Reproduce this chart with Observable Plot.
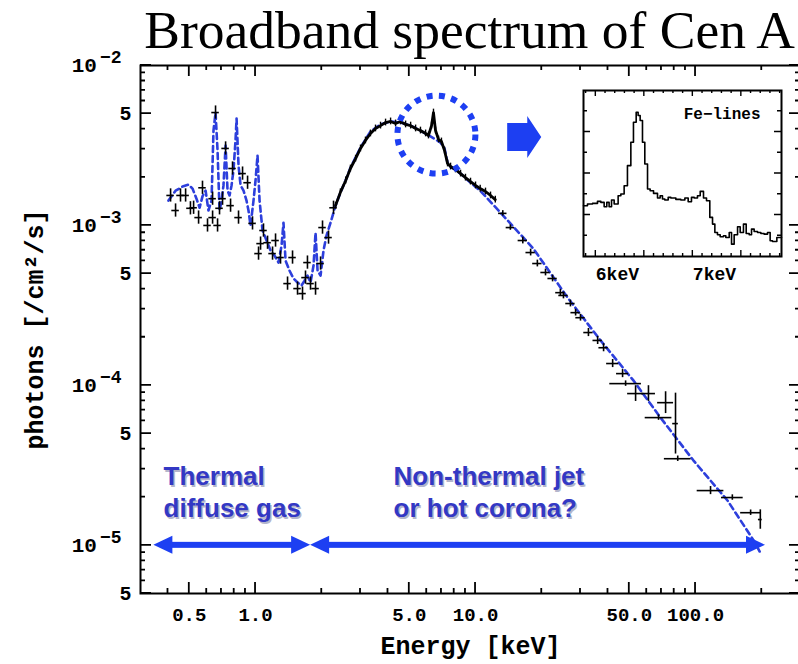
<!DOCTYPE html>
<html>
<head>
<meta charset="utf-8">
<script src="https://cdn.jsdelivr.net/npm/d3@7"></script>
<script src="https://cdn.jsdelivr.net/npm/@observablehq/plot@0.6"></script>
<style>
  html, body { margin: 0; padding: 0; background: #fff; overflow: hidden; }
  #wrap { position: relative; width: 800px; height: 664px; }
  #title {
    box-sizing: border-box; width: 798px; height: 58px; line-height: 60px;
    padding-right: 3px; text-align: right; white-space: nowrap; overflow: visible;
    font-family: "Liberation Serif", serif; font-size: 53.5px; color: #000;
  }
  #inset { position: absolute; left: 581px; top: 88px; }
</style>
</head>
<body>
<div id="wrap">
  <div id="title">Broadband spectrum of Cen A</div>
</div>
<script>
// ---------- spectrum data (energy in keV, flux in 10^-3 photons/cm^2/s) ----------
// soft band bins (thermal emission)
const softE = [0.411,0.433,0.456,0.481,0.506,0.523,0.551,0.574,0.605,0.638,0.638,0.658,0.672,0.686,0.708,0.731,0.770,0.786,0.837,0.873,0.920,0.969,1.032,1.054,1.087,1.134,1.195,1.233,1.299,1.398,1.473,1.552,1.635,1.687,1.722,1.778,1.874,1.975,2.016,2.147,2.262];
const softF = [1.54,1.24,1.54,1.54,1.28,1.29,1.12,1.72,1.00,1.47,1.12,5.08,1.00,1.28,1.47,3.03,1.33,2.27,1.12,2.11,1.85,1.03,0.667,0.77,0.93,0.78,0.667,0.805,0.63,0.433,0.63,0.403,0.375,0.472,0.586,0.433,0.403,0.578,0.97,0.84,1.29];
const softXf = 1.04, softYf = 1.1;   // multiplicative error half-widths

// dense continuum 2.3–12 keV, with the Fe K line
const contE = [2.31,2.43,2.57,2.70,2.85,3.00,3.16,3.33,3.51,3.70,3.90,4.11,4.33,4.56,4.81,5.07,5.34,5.62,5.93,6.11,6.31,6.44,6.58,6.79,7.00,7.23,7.46,7.70,8.11,8.55,9.00,9.49,10.0,10.5,11.1,11.7,12.3];
const contF = [1.33,1.61,1.91,2.27,2.62,3.03,3.40,3.76,4.04,4.21,4.40,4.47,4.34,4.47,4.28,4.21,4.04,3.92,3.76,3.65,4.21,5.08,3.92,3.445,3.35,2.94,2.44,2.335,2.24,2.11,1.99,1.88,1.78,1.70,1.63,1.54,1.45];

// hard band bins
const hardE  = [13.3,14.4,16.4,17.8,19.1,20.8,22.4,24.3,25.1,27.0,28.5,30.0,32.6,35.9,38.2,42.0,46.6,48.1,53.4,61.1,73.1,67.9,81.1,83.0,117,147,178,197];
const hardF  = [1.19,0.97,0.805,0.677,0.578,0.508,0.466,0.38,0.365,0.325,0.285,0.265,0.214,0.191,0.172,0.137,0.1185,0.1026,0.0889,0.0889,0.078,0.0629,0.0577,0.0348,0.022,0.0199,0.016,0.0145];
const hardXf = [1.045,1.045,1.05,1.05,1.05,1.05,1.05,1.05,1.05,1.05,1.05,1.05,1.05,1.05,1.05,1.065,1.065,1.18,1.087,1.076,1.087,1.15,1.03,1.15,1.15,1.12,1.11,1.02];
const hardYf = [1.04,1.04,1.05,1.05,1.05,1.05,1.05,1.05,1.05,1.05,1.05,1.05,1.06,1.06,1.06,1.06,1.06,1.04,1.12,1.12,1.17,1.04,1.55,1.04,1.06,1.04,1.04,1.15];

// best-fit model curve
const modelE = [0.402,0.433,0.466,0.496,0.517,0.539,0.557,0.574,0.593,0.611,0.631,0.644,0.658,0.672,0.686,0.701,0.715,0.731,0.746,0.762,0.778,0.794,0.811,0.820,0.837,0.855,0.882,0.910,0.929,0.949,0.979,1.0,1.021,1.043,1.076,1.122,1.170,1.220,1.272,1.313,1.340,1.369,1.427,1.488,1.552,1.618,1.670,1.722,1.778,1.835,1.874,1.914,1.975,2.037,2.102,2.193,2.310,2.433,2.565,2.703,3.0,3.332,3.70,4.11,4.56,5.07,5.62,6.24,6.93,7.23,7.46,7.70,8.55,9.49,10.5,13.0,18.3,26.2,37.0,52.3,69.3,97.9,140,184,197];
const modelF = [1.43,1.65,1.75,1.80,1.70,1.47,1.29,1.52,1.65,1.24,1.43,3.92,5.08,2.94,1.24,1.43,1.78,3.16,1.65,1.54,1.78,2.21,3.40,4.66,2.37,1.78,1.65,1.43,1.24,1.00,1.43,1.91,2.74,1.43,0.93,0.805,0.697,0.648,0.586,0.748,1.04,0.603,0.522,0.466,0.44,0.421,0.452,0.486,0.44,0.561,0.90,0.522,0.486,0.697,0.865,1.04,1.33,1.61,1.91,2.30,3.07,3.87,4.28,4.47,4.40,4.21,3.92,3.60,3.30,3.03,2.47,2.33,2.11,1.85,1.65,1.20,0.718,0.354,0.191,0.107,0.0629,0.0339,0.0190,0.0107,0.0090];

// Fe-line zoom: bin left edges (keV) and counts (arbitrary units)
const feE = [5.873,5.914,5.966,6.017,6.052,6.086,6.113,6.137,6.162,6.189,6.230,6.258,6.292,6.326,6.361,6.388,6.416,6.436,6.457,6.481,6.505,6.533,6.560,6.595,6.636,6.663,6.687,6.711,6.746,6.773,6.825,6.876,6.918,6.952,6.986,7.014,7.048,7.076,7.110,7.141,7.175,7.203,7.227,7.254,7.282,7.316,7.340,7.375,7.399,7.426,7.461,7.488,7.522,7.550,7.581,7.605,7.632,7.667,7.701,7.735,7.770,7.797,7.821,7.866,7.914];
const feC = [1.223,1.264,1.280,1.328,1.304,1.199,1.304,1.199,1.360,1.264,1.465,1.505,1.706,2.189,2.753,3.235,3.477,3.396,3.276,2.753,2.229,1.626,1.586,1.521,1.408,1.465,1.384,1.360,1.425,1.408,1.376,1.360,1.408,1.320,1.425,1.408,1.465,1.569,1.408,1.344,0.942,0.781,0.579,0.523,0.475,0.499,0.459,0.579,0.298,0.523,0.716,0.579,0.781,0.555,0.523,0.660,0.604,0.579,0.555,0.539,0.579,0.378,0.362,0.459,0.459];

// annotations
const feRing = {E: 6.64, F: 3.70e-3};                 // circled Fe feature
const pointer = {from: 14.0, to: 20.0, F: 3.55e-3};     // arrow toward the zoom panel
const bandLevel = 1e-5;
const bands = [[0.345, 1.78], [1.78, 208]];            // thermal / non-thermal ranges
const bandLabels = [
  {E: 0.382, F: 3.29e-5, text: "Thermal\ndiffuse gas"},
  {E: 4.24,  F: 3.29e-5, text: "Non-thermal jet\nor hot corona?"}
];

// axis extents and ticks
const xDomain = [0.3, 300];
const yDomain = [5e-6, 1e-2];
const xMajor = [0.5, 1, 5, 10, 50, 100];
const xMinor = [0.4, 0.6, 0.7, 0.8, 0.9, 2, 3, 4, 6, 7, 8, 9, 20, 30, 40, 60, 70, 80, 90, 200];
const yDecades = [1e-2, 1e-3, 1e-4, 1e-5];
const yFives = [5e-3, 5e-4, 5e-5, 5e-6];
const yMinor = [9e-3,8e-3,7e-3,6e-3,4e-3,3e-3,2e-3, 9e-4,8e-4,7e-4,6e-4,4e-4,3e-4,2e-4, 9e-5,8e-5,7e-5,6e-5,4e-5,3e-5,2e-5, 9e-6,8e-6,7e-6,6e-6];
const feXDomain = [5.873, 7.914];
const feYDomain = [0, 4];
const feMajorX = [6, 6.5, 7, 7.5];
const feMinorX = [5.9,6.1,6.2,6.3,6.4,6.6,6.7,6.8,6.9,7.1,7.2,7.3,7.4,7.6,7.7,7.8,7.9];
const feMajorY = [1, 2, 3];
const feMinorY = [0.5, 1.5, 2.5, 3.5];
const feLabels = [6, 7];

// ---------- tables ----------
const soft = softE.map((E, i) => ({E, F: softF[i] * 1e-3, xf: softXf, yf: softYf}));
const hard = hardE.map((E, i) => ({E, F: hardF[i] * 1e-3, xf: hardXf[i], yf: hardYf[i]}));
const points = soft.concat(hard);
const cont = contE.map((E, i) => ({E, F: contF[i] * 1e-3}));
const model = modelE.map((E, i) => ({E, F: modelF[i] * 1e-3}));
const fe = feE.map((E, i) => ({E, C: feC[i]}));

const MODEL_BLUE = "#2d3fdc";
const ARROW_BLUE = "#1d3ff2";
const TEXT_BLUE = "#3338c4";
const MONO = "Liberation Mono, DejaVu Sans Mono, monospace";
const SANS = "Liberation Sans, Arial, sans-serif";

// inward ticks on all four frame edges, positioned with the plot's own scales
// and appended on top of the finished chart
function addFrameTicks(svg, xSets, ySets, strokeWidth) {
  const sx = svg.scale("x"), sy = svg.scale("y");
  const x0 = Math.min(...sx.range), x1 = Math.max(...sx.range);
  const y0 = Math.min(...sy.range), y1 = Math.max(...sy.range);
  let d = "";
  for (const [values, len] of xSets) for (const v of values) {
    const x = sx.apply(v);
    d += `M${x},${y1}V${y1 - len}M${x},${y0}V${y0 + len}`;
  }
  for (const [values, len] of ySets) for (const v of values) {
    const y = sy.apply(v);
    d += `M${x0},${y}H${x0 + len}M${x1},${y}H${x1 - len}`;
  }
  d3.select(svg).append("path").attr("d", d).attr("fill", "none")
    .attr("stroke", "black").attr("stroke-width", strokeWidth);
}

// filled block arrow drawn from scale positions
function blockArrow(spec) {
  return (index, {x, y}) => {
    const x1 = x(spec.from), x2 = x(spec.to), yc = y(spec.F);
    const bh = 14, hh = 21, hl = 14;
    const pts = [[x1, yc - bh], [x2 - hl, yc - bh], [x2 - hl, yc - hh], [x2, yc],
                 [x2 - hl, yc + hh], [x2 - hl, yc + bh], [x1, yc + bh]];
    return d3.create("svg:polygon").attr("points", pts.join(" ")).attr("fill", ARROW_BLUE).node();
  };
}

// double-headed range arrows along a flux level
function rangeArrows(spans, level) {
  return (index, {x, y}) => {
    const g = d3.create("svg:g").attr("fill", ARROW_BLUE);
    const yc = y(level), hl = 19, hh = 9;
    for (const [a, b] of spans) {
      const xa = x(a), xb = x(b);
      g.append("rect").attr("x", xa + 8).attr("y", yc - 3).attr("width", xb - xa - 16).attr("height", 6);
      g.append("polygon").attr("points", [[xa, yc], [xa + hl, yc - hh], [xa + hl, yc + hh]].join(" "));
      g.append("polygon").attr("points", [[xb, yc], [xb - hl, yc - hh], [xb - hl, yc + hh]].join(" "));
    }
    return g.node();
  };
}

const labelFont = {fontWeight: "bold", fontFamily: MONO, fill: "black"};

const chart = Plot.plot({
  width: 800, height: 606,
  marginLeft: 140, marginRight: 0, marginTop: 7, marginBottom: 71,
  style: {background: "transparent", overflow: "visible", maxWidth: "none", fontFamily: MONO},
  x: {type: "log", domain: xDomain, axis: null},
  y: {type: "log", domain: yDomain, axis: null},
  marks: [
    // tick labels
    Plot.text(xMajor, {x: d => d, frameAnchor: "bottom", dy: 14, lineAnchor: "top",
      text: d3.format(".1f"), fontSize: 19, ...labelFont}),
    Plot.text(yDecades, {y: d => d, frameAnchor: "left", dx: -19, textAnchor: "end", lineAnchor: "middle",
      text: d => `10^${Math.round(Math.log10(d))}`, fontSize: 21, ...labelFont}),
    Plot.text(yFives, {y: d => d, frameAnchor: "left", dx: -9, textAnchor: "end", lineAnchor: "middle",
      text: () => "5", fontSize: 20, ...labelFont}),
    Plot.frame({stroke: "black", strokeWidth: 2}),

    // model
    Plot.line(model, {x: "E", y: "F", stroke: MODEL_BLUE, strokeWidth: 2.6, strokeDasharray: "6,4"}),

    // data with error bars
    Plot.line(cont, {x: "E", y: "F", stroke: "black", strokeWidth: 2.8}),
    Plot.ruleX(cont, {x: "E", y1: d => d.F / 1.05, y2: d => d.F * 1.05, stroke: "black", strokeWidth: 1.4}),
    Plot.ruleX(points, {x: "E", y1: d => d.F / d.yf, y2: d => d.F * d.yf, stroke: "black", strokeWidth: 1.6}),
    Plot.ruleY(points, {y: "F", x1: d => d.E / d.xf, x2: d => d.E * d.xf, stroke: "black", strokeWidth: 1.6}),

    // Fe feature highlight and pointer
    Plot.dot([feRing], {x: "E", y: "F", r: 39, fill: "none", stroke: ARROW_BLUE, strokeWidth: 6, strokeDasharray: "6,6.4"}),
    blockArrow(pointer),

    // emission regimes
    rangeArrows(bands, bandLevel),
    Plot.text(bandLabels, {x: "E", y: "F", text: "text", textAnchor: "start", lineAnchor: "top",
      lineHeight: 1.23, fontSize: 26, fontWeight: "bold", fontFamily: SANS,
      fill: "#b4b6cc", dx: 1.5, dy: 1.5}),
    Plot.text(bandLabels, {x: "E", y: "F", text: "text", textAnchor: "start", lineAnchor: "top",
      lineHeight: 1.23, fontSize: 26, fontWeight: "bold", fontFamily: SANS, fill: TEXT_BLUE}),

    // axis titles
    Plot.text(["Energy [keV]"], {frameAnchor: "bottom", dy: 52, lineAnchor: "middle", textAnchor: "middle",
      text: d => d, fontSize: 25, ...labelFont}),
    Plot.text(["photons [/cm\u00b2/s]"], {frameAnchor: "left", dx: -106, rotate: -90, lineAnchor: "middle",
      textAnchor: "middle", text: d => d, fontSize: 25, ...labelFont})
  ]
});

// decade labels as 10 with a raised exponent
d3.select(chart).selectAll("text").each(function () {
  const m = /^10\^(-?\d+)$/.exec(this.textContent);
  if (!m) return;
  const t = d3.select(this);
  t.text(null);
  t.append("tspan").text("10");
  t.append("tspan").attr("dy", "-0.5em").attr("dx", 3).attr("font-size", "18px")
    .text("\u2212" + m[1].replace("-", ""));
});

addFrameTicks(chart,
  [[xMajor, 11], [xMinor, 5]],
  [[yDecades.concat(yFives), 11], [yMinor, 5]], 1.8);

document.getElementById("wrap").appendChild(chart);

// ---------- Fe-line zoom panel ----------
const inset = Plot.plot({
  width: 202, height: 200,
  marginLeft: 2, marginRight: 2, marginTop: 2, marginBottom: 32,
  style: {background: "white", overflow: "visible", fontFamily: MONO},
  x: {domain: feXDomain, axis: null},
  y: {domain: feYDomain, axis: null},
  marks: [
    Plot.line(fe, {x: "E", y: "C", curve: "step-after", stroke: "black", strokeWidth: 1.6}),
    Plot.text(feLabels, {x: d => d, frameAnchor: "bottom", dy: 11, lineAnchor: "top", textAnchor: "start",
      text: d => `${d}keV`, fontSize: 18, ...labelFont}),
    Plot.frame({stroke: "black", strokeWidth: 2}),
    Plot.text(["Fe\u2212lines"], {frameAnchor: "top-right", dx: -21, dy: 23, lineAnchor: "middle",
      textAnchor: "end", text: d => d, fontSize: 16, ...labelFont})
  ]
});
addFrameTicks(inset,
  [[feMajorX, 6], [feMinorX, 3]],
  [[feMajorY, 7], [feMinorY, 4]], 1.4);
inset.id = "inset";
document.getElementById("wrap").appendChild(inset);
</script>
</body>
</html>
